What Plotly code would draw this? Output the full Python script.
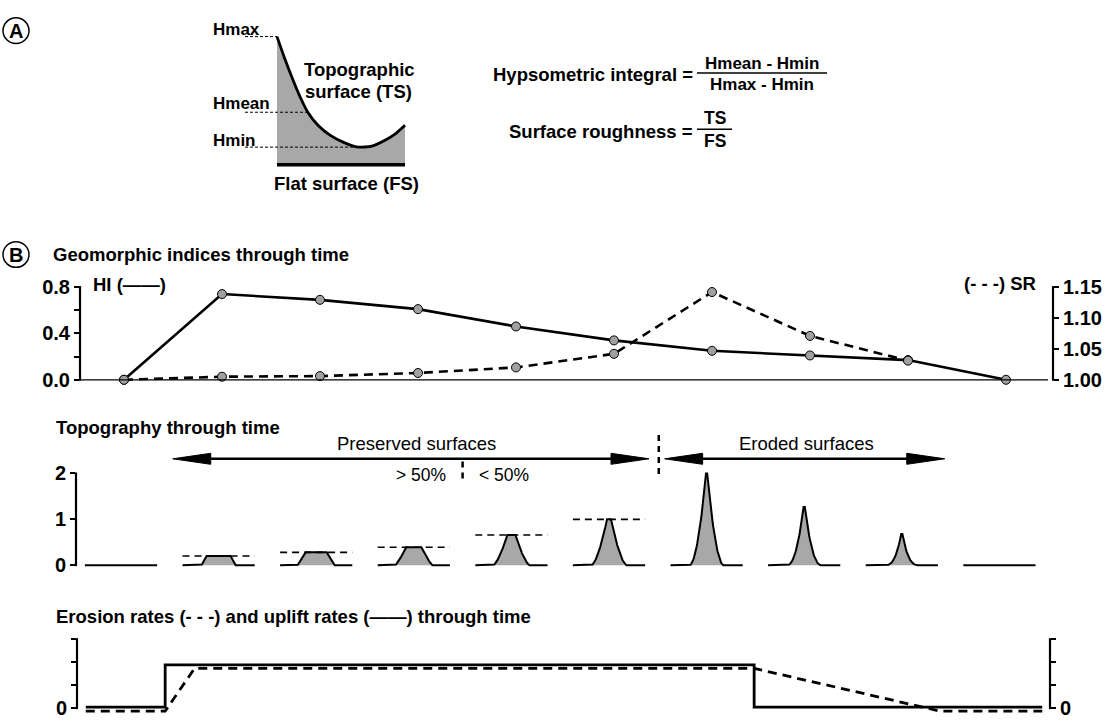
import plotly.graph_objects as go

W, H = 1105, 724

# ---------------- data ----------------
time_steps = [0, 1, 2, 3, 4, 5, 6, 7, 8, 9]
hi_values = [0.0, 0.74, 0.69, 0.61, 0.46, 0.34, 0.25, 0.21, 0.17, 0.0]
sr_steps = [0, 1, 2, 3, 4, 5, 6, 7, 8]
sr_values = [1.000, 1.005, 1.006, 1.011, 1.020, 1.042, 1.142, 1.071, 1.031]

# topography peak heights per time step
topo_peaks = [0.0, 0.20, 0.28, 0.39, 0.66, 1.00, 2.00, 1.27, 0.68, 0.0]
preserved_level_steps = [1, 2, 3, 4, 5]

# erosion / uplift rates
uplift_t = [-0.39, 0.42, 0.42, 6.43, 6.43, 9.37]
uplift_v = [0.05, 0.05, 1.88, 1.88, 0.05, 0.05]
erosion_t = [-0.39, 0.42, 0.72, 6.43, 8.33, 9.37]
erosion_v = [-0.13, -0.13, 1.73, 1.73, -0.13, -0.13]

# panel A schematic surface (relative distance, relative elevation)
surf_x = [0.0, 0.0625, 0.125, 0.18, 0.242, 0.32, 0.414, 0.516, 0.633, 0.742, 0.844, 0.93, 1.0]
surf_h = [1.0, 0.823, 0.662, 0.531, 0.408, 0.308, 0.231, 0.177, 0.138, 0.146, 0.192, 0.246, 0.308]
h_max, h_mean, h_min = 1.0, 0.41, 0.138

# ---------------- helpers ----------------
def px(x):
    return x / W


def py(y):
    return (H - y) / H


def x_axis(p_lo, p_hi, v_lo, v_hi, d_lo, d_hi):
    """pixel anchors -> (domain, range) for an x axis"""
    ppu = (p_hi - p_lo) / (v_hi - v_lo)
    return [px(d_lo), px(d_hi)], [v_lo - (p_lo - d_lo) / ppu, v_hi + (d_hi - p_hi) / ppu]


def y_axis(p_lo, p_hi, v_lo, v_hi, d_bot, d_top):
    ppu = (p_lo - p_hi) / (v_hi - v_lo)
    return [py(d_bot), py(d_top)], [v_lo - (d_bot - p_lo) / ppu, v_hi + (p_hi - d_top) / ppu]


BLACK = "#000000"
GRAY = "#a8a8a8"
FONT = "Liberation Sans, Arial, sans-serif"

# panel geometry (pixel anchors)
TOP_X = (124, 1006, 0, 9)
TOP_Y = (377, 283)
TOPO_X = (121, 999.4, 0, 9)
TOPO_Y = (565, 472)
RATE_Y = (710, 640)

# topography glyph styling (half widths in time units, concavity)
TOPO_HALF = 0.37
topo_top_w = [0, 0.123, 0.108, 0.077, 0.041, 0.02, 0.006, 0.006, 0.006, 0]
topo_base_w = [0, 0.175, 0.19, 0.19, 0.185, 0.18, 0.175, 0.175, 0.175, 0]
topo_conc = [1, 1.0, 1.0, 1.2, 1.45, 1.6, 1.9, 2.2, 2.8, 1]


def profile(c, h, wt, wb, p, n=30):
    xs = [c - TOPO_HALF]
    ys = [0.0]
    if h > 0:
        L = wb - wt
        for i in range(n + 1):
            s = i / n
            xs.append(c - wb + L * s)
            ys.append(h * s ** p)
        for i in range(n, -1, -1):
            s = i / n
            xs.append(c + wb - L * s)
            ys.append(h * s ** p)
    xs.append(c + TOPO_HALF)
    ys.append(0.0)
    return xs, ys


def topo_px(t):
    return TOPO_X[0] + (TOPO_X[1] - TOPO_X[0]) * t / 9


def topo_py(h):
    return TOPO_Y[0] - (TOPO_Y[0] - TOPO_Y[1]) * h / 2


fig = go.Figure()

# ---------------- top chart: HI & SR ----------------
marker = dict(size=9, color="#a0a0a0", line=dict(color=BLACK, width=1))
fig.add_trace(go.Scatter(x=time_steps, y=hi_values, mode="lines",
                         line=dict(color=BLACK, width=2.6),
                         xaxis="x", yaxis="y", cliponaxis=False, showlegend=False))
fig.add_trace(go.Scatter(x=sr_steps, y=sr_values, mode="lines+markers",
                         line=dict(color=BLACK, width=2.6, dash="9px,6px"), marker=marker,
                         xaxis="x", yaxis="y2", cliponaxis=False, showlegend=False))
fig.add_trace(go.Scatter(x=time_steps, y=hi_values, mode="markers", marker=marker,
                         xaxis="x", yaxis="y", cliponaxis=False, showlegend=False))

# ---------------- topography ----------------
for i, t in enumerate(time_steps):
    xs, ys = profile(t, topo_peaks[i], topo_top_w[i], topo_base_w[i], topo_conc[i])
    fig.add_trace(go.Scatter(x=xs, y=ys, mode="lines", fill="toself", fillcolor=GRAY,
                             line=dict(color=BLACK, width=2), xaxis="x2", yaxis="y3",
                             showlegend=False, hoverinfo="skip"))
for i in preserved_level_steps:
    t = time_steps[i]
    fig.add_trace(go.Scatter(x=[t - TOPO_HALF, t + TOPO_HALF], y=[topo_peaks[i], topo_peaks[i]],
                             mode="lines", line=dict(color=BLACK, width=1.6, dash="7px,5px"),
                             xaxis="x2", yaxis="y3", showlegend=False))

# ---------------- erosion / uplift ----------------
fig.add_trace(go.Scatter(x=uplift_t, y=uplift_v, mode="lines",
                         line=dict(color=BLACK, width=2.8), xaxis="x4", yaxis="y5",
                         showlegend=False))
fig.add_trace(go.Scatter(x=erosion_t, y=erosion_v, mode="lines",
                         line=dict(color=BLACK, width=2.8, dash="9px,6px"), xaxis="x4", yaxis="y5",
                         showlegend=False))
# anchor trace for the right-hand rate axis
fig.add_trace(go.Scatter(x=[0], y=[0], mode="markers", marker=dict(opacity=0), xaxis="x4", yaxis="y6",
                         showlegend=False, hoverinfo="skip"))

# ---------------- panel A ----------------
fig.add_trace(go.Scatter(x=surf_x, y=surf_h, mode="lines",
                         line=dict(color=BLACK, width=2.8, shape="spline", smoothing=0.6),
                         fill="tozeroy", fillcolor=GRAY, xaxis="x3", yaxis="y4",
                         showlegend=False))
fig.add_trace(go.Scatter(x=[0, 1], y=[0, 0], mode="lines", line=dict(color=BLACK, width=3.5),
                         xaxis="x3", yaxis="y4", showlegend=False))
for hv, x_end in [(h_max, 0.0), (h_mean, 0.24), (h_min, 0.62)]:
    fig.add_trace(go.Scatter(x=[-0.25, x_end], y=[hv, hv], mode="lines",
                             line=dict(color=BLACK, width=1, dash="3px,2px"),
                             xaxis="x3", yaxis="y4", showlegend=False))

# ---------------- axes ----------------
tickfont = dict(family=FONT, size=20, color=BLACK, weight="bold")
yax_common = dict(showline=False, ticks="outside", ticklen=5,
                  tickwidth=2, tickcolor=BLACK, showgrid=False, zeroline=False, tickfont=tickfont,
                  ticklabeloverflow="allow", fixedrange=True)
hidden_x = dict(visible=False, showgrid=False, zeroline=False, fixedrange=True)

top_xd, top_xr = x_axis(TOP_X[0], TOP_X[1], 0, 9, 80, 1053)
hi_yd, hi_yr = y_axis(TOP_Y[0], TOP_Y[1], 0, 0.8, 386, 280)
sr_yd, sr_yr = y_axis(TOP_Y[0], TOP_Y[1], 1.0, 1.15, 386, 280)
topo_xd, topo_xr = x_axis(TOPO_X[0], TOPO_X[1], 0, 9, 76, 1045)
topo_yd, topo_yr = y_axis(TOPO_Y[0], TOPO_Y[1], 0, 2, 574, 464)
rate_xd, rate_xr = x_axis(TOP_X[0], TOP_X[1], 0, 9, 77, 1050)
rate_yd, rate_yr = y_axis(RATE_Y[0], RATE_Y[1], 0, 3, 722, 636)
a_xd, a_xr = x_axis(277, 405, 0, 1, 200, 440)
a_yd, a_yr = y_axis(159, 29, 0, 1, 175, 15)

fig.update_layout(
    width=W, height=H, autosize=False,
    margin=dict(l=0, r=0, t=0, b=0),
    paper_bgcolor="white", plot_bgcolor="rgba(0,0,0,0)",
    font=dict(family=FONT, color=BLACK),
    showlegend=False,
    xaxis=dict(domain=top_xd, range=top_xr, anchor="y", **hidden_x),
    yaxis=dict(domain=hi_yd, range=hi_yr, anchor="x",
               tickvals=[0, 0.2, 0.4, 0.6, 0.8], ticktext=["0.0", "", "0.4", "", "0.8"], **yax_common),
    yaxis2=dict(domain=sr_yd, range=sr_yr, anchor="x", overlaying="y", side="right",
                tickvals=[1.0, 1.05, 1.10, 1.15], ticktext=["1.00", "1.05", "1.10", "1.15"], **yax_common),
    xaxis2=dict(domain=topo_xd, range=topo_xr, anchor="y3", **hidden_x),
    yaxis3=dict(domain=topo_yd, range=topo_yr, anchor="x2",
                tickvals=[0, 1, 2], ticktext=["0", "1", "2"], **yax_common),
    xaxis3=dict(domain=a_xd, range=a_xr, anchor="y4", **hidden_x),
    yaxis4=dict(domain=a_yd, range=a_yr, anchor="x3", visible=False, fixedrange=True),
    xaxis4=dict(domain=rate_xd, range=rate_xr, anchor="y5", **hidden_x),
    yaxis5=dict(domain=rate_yd, range=rate_yr, anchor="x4",
                tickvals=[0, 1, 2, 3], ticktext=["0", "", "", ""], **yax_common),
    yaxis6=dict(domain=rate_yd, range=rate_yr, anchor="x4", overlaying="y5", side="right",
                tickvals=[0, 1, 2, 3], ticktext=["0", "", "", ""], **yax_common),
)

# ---------------- annotations ----------------
annots = []


def txt(x, y, text, size=18.5, bold=True, xanchor="left", yanchor="middle"):
    annots.append(dict(x=px(x), y=py(y), xref="paper", yref="paper", text=text, showarrow=False,
                       xanchor=xanchor, yanchor=yanchor, borderpad=0,
                       font=dict(family=FONT, size=size, color=BLACK, weight="bold" if bold else "normal")))


# panel labels
txt(16, 23, "A", size=20, xanchor="center")
txt(16, 250, "B", size=20, xanchor="center")

# panel A texts
txt(212, 22, "Hmax", size=17)
txt(212, 97, "Hmean", size=17)
txt(212, 134, "Hmin", size=17)
txt(359, 62, "Topographic", size=18.5, xanchor="center")
txt(358, 85, "surface (TS)", size=18.5, xanchor="center")
txt(346, 178, "Flat surface (FS)", size=18.5, xanchor="center")

txt(694, 67, "Hypsometric integral =", size=18.5, xanchor="right")
txt(762, 56, "Hmean - Hmin", size=17, xanchor="center")
txt(762, 78, "Hmax - Hmin", size=17, xanchor="center")
txt(694, 125, "Surface roughness =", size=18.5, xanchor="right")
txt(715, 112, "TS", size=17.5, xanchor="center")
txt(715, 135, "FS", size=17.5, xanchor="center")

# section titles
txt(52, 250, "Geomorphic indices through time")
txt(92, 280, "HI (——)")
txt(1037, 279, "(- - -) SR", xanchor="right")
txt(55, 425, "Topography through time")
txt(55, 617, "Erosion rates (- - -) and uplift rates (——) through time")

# topography arrows text
txt(416, 442, "Preserved surfaces", size=18.5, bold=False, xanchor="center")
txt(806, 442, "Eroded surfaces", size=18.5, bold=False, xanchor="center")
txt(447, 474, "> 50%", size=17.5, bold=False, xanchor="right")
txt(478, 474, "< 50%", size=17.5, bold=False, xanchor="left")

fig.update_layout(annotations=annots)

# ---------------- shapes ----------------
shapes = []


def pline(x0, y0, x1, y1, width=2, dash=None):
    ln = dict(color=BLACK, width=width)
    if dash:
        ln["dash"] = dash
    shapes.append(dict(type="line", xref="paper", yref="paper", x0=px(x0), x1=px(x1),
                       y0=py(y0), y1=py(y1), line=ln))


# circles around panel letters
for cy in (23, 250):
    shapes.append(dict(type="circle", xref="paper", yref="paper", x0=px(3), x1=px(29),
                       y0=py(cy + 13), y1=py(cy - 13), line=dict(color=BLACK, width=1.5)))
# fraction bars
pline(697, 66, 827, 66, 1.5)
pline(697, 123, 732, 123, 1.5)

# axis lines
pline(80, TOP_Y[0] + 1, 80, TOP_Y[1] - 1, 2.2)          # HI axis
pline(1053, TOP_Y[0] + 1, 1053, TOP_Y[1] - 1, 2.2)      # SR axis
pline(78, TOP_Y[0], 1048, TOP_Y[0], 1.2)                # time baseline
pline(76, TOPO_Y[0] + 1, 76, TOPO_Y[1] - 1, 2.2)        # topography axis
pline(77, RATE_Y[0] + 1, 77, RATE_Y[1] - 1, 2.2)        # rate axis left
pline(1050, RATE_Y[0] + 1, 1050, RATE_Y[1] - 1, 2.2)    # rate axis right

# arrows in topography panel (time units / height units -> pixels)
arrow_y = topo_py(2.32)
arrows = [(0.53, 5.41), (5.57, 8.44)]
for a, b in arrows:
    xa, xb = topo_px(a), topo_px(b)
    pline(xa + 20, arrow_y, xb - 20, arrow_y, 2.5)
    shapes.append(dict(type="path", xref="paper", yref="paper", xsizemode="pixel", ysizemode="pixel",
                       xanchor=px(xa), yanchor=py(arrow_y), path="M0,0 L38,5.5 L38,-5.5 Z",
                       fillcolor=BLACK, line=dict(color=BLACK, width=1)))
    shapes.append(dict(type="path", xref="paper", yref="paper", xsizemode="pixel", ysizemode="pixel",
                       xanchor=px(xb), yanchor=py(arrow_y), path="M0,0 L-38,5.5 L-38,-5.5 Z",
                       fillcolor=BLACK, line=dict(color=BLACK, width=1)))
# dashed separators
sep_x = topo_px(5.51)
pline(sep_x, topo_py(2.84), sep_x, topo_py(1.89), 2.5, "6px,5px")
sep2_x = topo_px(3.50)
pline(sep2_x, topo_py(2.26), sep2_x, topo_py(1.83), 2.5, "6px,5px")

fig.update_layout(shapes=shapes)

fig.write_html("out.html")
